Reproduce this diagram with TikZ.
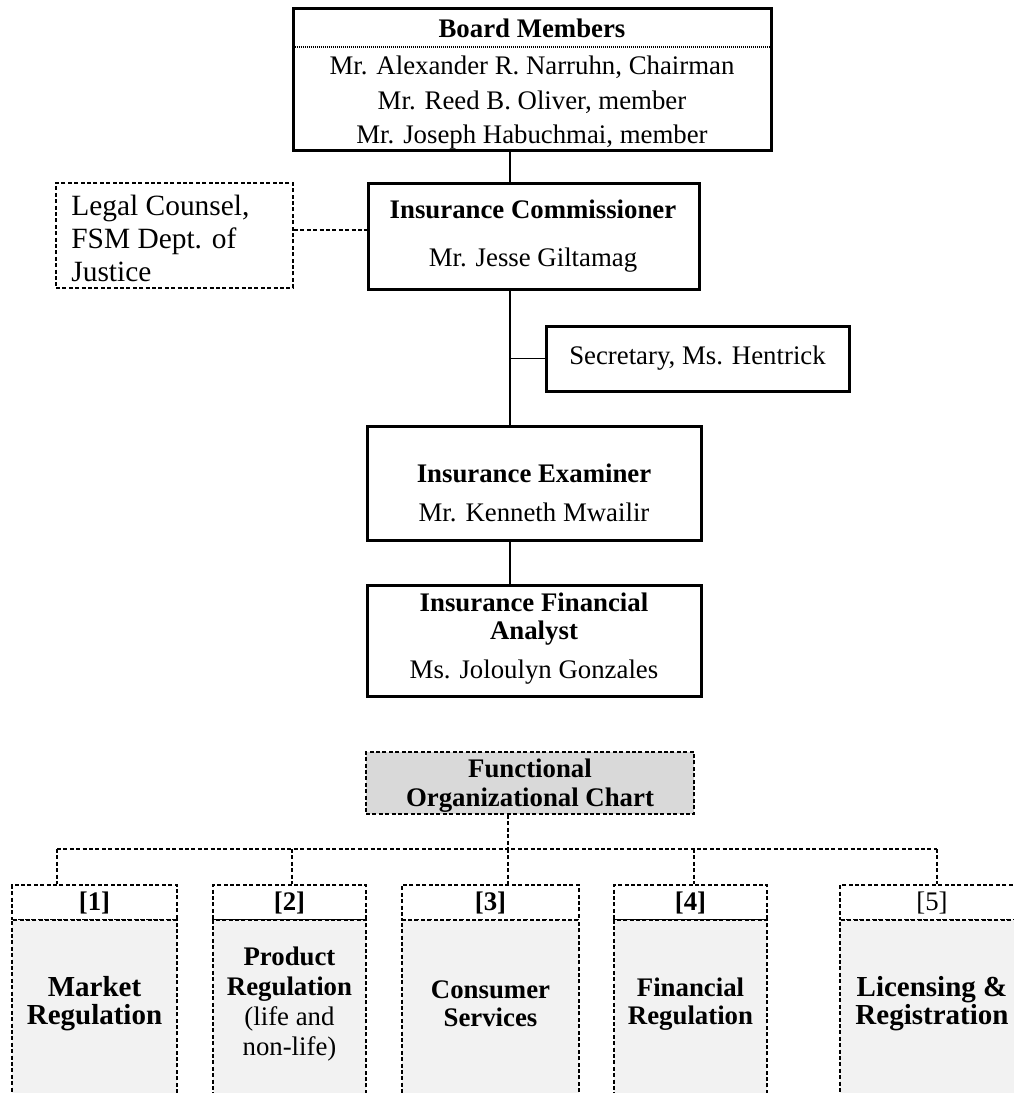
\documentclass[tikz,border=0pt]{standalone}
\usepackage{fontspec}
\setmainfont{Liberation Serif}
\usetikzlibrary{fit}

\tikzset{
  solidbox/.style={draw, line width=1.5pt, inner sep=0pt},
  dashbox/.style={draw, line width=1.05pt, dash pattern=on 2pt off 1.2pt, inner sep=0pt},
  solidlink/.style={line width=0.9pt},
  dashlink/.style={line width=1.05pt, dash pattern=on 2pt off 1.2pt},
  txt/.style={font=\fontsize{13.4}{17.5}\selectfont, align=center, inner sep=0pt},
  txtb/.style={txt, font=\fontsize{13.4}{17.5}\selectfont\bfseries},
}

\begin{document}
\begin{tikzpicture}[x=0.5pt, y=-0.5pt]
        \useasboundingbox (0,0) rectangle (1013,1093);

        % upper chart
        \node[solidbox, fit={(293,8) (771,150)}] (board) {};
        \node[inner sep=0pt, fit={(293,8) (771,47)}] (boardhead) {};
        \draw[line width=1pt, dash pattern=on 0.5pt off 0.5pt] (boardhead.south west) -- (boardhead.south east);
        \node[txtb] (bm0) at (532,28)  {Board Members};
        \node[txt]  (bm1) at (532,67)  {Mr. Alexander R. Narruhn, Chairman};
        \node[txt]  (bm2) at (532,102) {Mr. Reed B. Oliver, member};
        \node[txt]  (bm3) at (532,137) {Mr. Joseph Habuchmai, member};

        \node[dashbox, fit={(56,183) (293,288)}] (legal) {};
        \node[txt, align=left, anchor=west, font=\fontsize{14.7}{16.5}\selectfont] (legaltxt) at (71,238) {Legal Counsel,\\FSM Dept. of\\Justice};

        \node[solidbox, fit={(368,183) (699,289)}] (commish) {};
        \node[txtb] (cm1) at (533,209) {Insurance Commissioner};
        \node[txt]  (cm2) at (533,260) {Mr. Jesse Giltamag};

        \node[solidbox, fit={(546,326) (849,391)}] (sec) {};
        \node[txt] (sectxt) at (sec) {Secretary, Ms. Hentrick};

        \node[solidbox, fit={(367,426) (701,540)}] (exam) {};
        \node[txtb] (ex1) at (534,473) {Insurance Examiner};
        \node[txt]  (ex2) at (534,512) {Mr. Kenneth Mwailir};

        \node[solidbox, fit={(367,585) (701,696)}] (analyst) {};
        \node[txtb] (an1) at (534,602) {Insurance Financial};
        \node[txtb] (an2) at (534,633) {Analyst};
        \node[txt]  (an3) at (534,672) {Ms. Joloulyn Gonzales};

        \coordinate (spine) at (510,230);
        \draw[solidlink] (board.south -| spine)   -- (commish.north -| spine);
        \draw[solidlink] (commish.south -| spine) -- (exam.north -| spine);
        \draw[solidlink] (sec.west -| spine)      -- (sec.west);
        \draw[solidlink] (exam.south -| spine)    -- (analyst.north -| spine);
        \draw[dashlink]  (legal.east |- spine)    -- (commish.west |- spine);

        % functional chart
        \node[dashbox, fill=black!15, fit={(366,752) (694,814)}] (func) {};
        \node[txtb] (fn1) at (530,768) {Functional};
        \node[txtb] (fn2) at (530,800) {Organizational Chart};

        \coordinate (trunk) at (508,849);
        \draw[dashlink] (func.south -| trunk) -- (trunk);

        \foreach \i/\l/\r/\d/\fs/\htext/\btext in {
            1/12/177/57/{\fontsize{14.5}{14}\selectfont}/{\textbf{[1]}}/{\textbf{Market}\\\textbf{Regulation}},
            2/213/366/292/{\fontsize{13.4}{15}\selectfont}/{\textbf{[2]}}/{\textbf{Product}\\\textbf{Regulation}\\(life and\\non-life)},
            3/402/579/508/{\fontsize{13.4}{14}\selectfont}/{\textbf{[3]}}/{\textbf{Consumer}\\\textbf{Services}},
            4/614/767/694/{\fontsize{13.4}{14}\selectfont}/{\textbf{[4]}}/{\textbf{Financial}\\\textbf{Regulation}},
            5/840/1024/937/{\fontsize{14.5}{14}\selectfont}/{[5]}/{\textbf{Licensing \&}\\\textbf{Registration}}} {
            \node[dashbox, fit={(\l,885) (\r,920)}] (h\i) {};
            \node[dashbox, fill=black!5, fit={(\l,920) (\r,1120)}] (b\i) {};
            \node[txt] (ht\i) at (h\i) {\htext};
            \node[txt, font=\fs] (bt\i) at ([yshift=-42.5pt]b\i.north) {\btext};
            \coordinate (d\i) at (\d,849);
            \draw[dashlink] (d\i) -- (d\i |- h\i.north);
        }
        \draw[dashlink] (d1) -- (d5);
    \end{tikzpicture}
\end{document}
